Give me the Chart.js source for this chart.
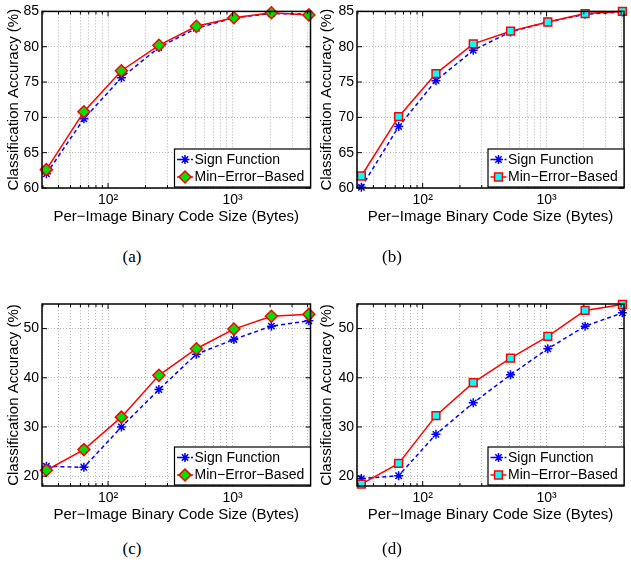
<!DOCTYPE html>
<html>
<head>
<meta charset="utf-8">
<script src="https://cdn.jsdelivr.net/npm/chart.js@4.4.0/dist/chart.umd.min.js"></script>
<style>
  body { margin: 0; background: #fff; width: 631px; height: 572px; position: relative; overflow: hidden; }
  canvas { position: absolute; }
  .cap { position: absolute; font-family: "Liberation Serif", "Times New Roman", serif; font-size: 17px; color: #000; transform: translate(-50%, -50%); }
</style>
</head>
<body>
<canvas id="chartA" width="318" height="235" style="left:0;top:0"></canvas>
<canvas id="chartB" width="316" height="235" style="left:315px;top:0"></canvas>
<canvas id="chartC" width="318" height="250" style="left:0;top:280px"></canvas>
<canvas id="chartD" width="316" height="250" style="left:315px;top:280px"></canvas>
<div class="cap" style="left:132px;top:257px">(a)</div>
<div class="cap" style="left:392px;top:257px">(b)</div>
<div class="cap" style="left:132px;top:549px">(c)</div>
<div class="cap" style="left:392px;top:549px">(d)</div>
<script>
// code sizes in bytes (x values)
const codeSizes = [32, 64, 128, 256, 512, 1024, 2048, 4096];

// (a)
const signA = [62.0, 69.8, 75.6, 79.9, 82.6, 84.1, 84.7, 84.6];
const minErrA = [62.6, 70.8, 76.6, 80.2, 82.9, 84.1, 84.8, 84.5];
// (b)
const signB = [60.1, 68.7, 75.2, 79.5, 82.1, 83.5, 84.6, 84.9];
const minErrB = [61.7, 70.1, 76.2, 80.4, 82.2, 83.5, 84.7, 85.0];
// (c)
const signC = [22.0, 21.8, 30.0, 37.6, 44.8, 47.8, 50.5, 51.6];
const minErrC = [21.2, 25.4, 32.0, 40.5, 45.9, 49.9, 52.5, 52.9];
// (d)
const signD = [19.5, 20.1, 28.5, 34.9, 40.6, 45.9, 50.5, 53.2];
const minErrD = [18.4, 22.6, 32.3, 39.0, 44.0, 48.4, 53.7, 54.9];

// axis ticks
const xTickValues = [30, 40, 50, 60, 70, 80, 90, 100, 200, 300, 400, 500, 600, 700, 800, 900, 1000, 2000, 3000, 4000];
const xTickLabels = { 100: '10²', 1000: '10³' };
const yTicksTop = [60, 65, 70, 75, 80, 85];
const yTicksBottom = [20, 30, 40, 50];

const seriesNames = ['Sign Function', 'Min−Error−Based'];

Chart.defaults.font.family = '"Liberation Sans", Arial, Helvetica, sans-serif';
Chart.defaults.color = '#000';

function drawMarker(ctx, style, x, y, r, fill, stroke, lw) {
    ctx.save();
    ctx.lineWidth = lw;
    ctx.strokeStyle = stroke;
    ctx.fillStyle = fill;
    ctx.beginPath();
    if (style === 'star') {
        for (let k = 0; k < 4; k++) {
            const ang = k * Math.PI / 4;
            ctx.moveTo(x - r * Math.cos(ang), y - r * Math.sin(ang));
            ctx.lineTo(x + r * Math.cos(ang), y + r * Math.sin(ang));
        }
        ctx.stroke();
    } else if (style === 'rectRot') {
        ctx.moveTo(x, y - r);
        ctx.lineTo(x + r, y);
        ctx.lineTo(x, y + r);
        ctx.lineTo(x - r, y);
        ctx.closePath();
        ctx.fill();
        ctx.stroke();
    } else {
        const s = r * Math.SQRT1_2;
        ctx.rect(x - s, y - s, 2 * s, 2 * s);
        ctx.fill();
        ctx.stroke();
    }
    ctx.restore();
}

const framePlugin = {
    id: 'frame',
    afterDatasetsDraw(chart) {
        const ctx = chart.ctx, a = chart.chartArea;
        const xs = chart.scales.x, ys = chart.scales.y;
        ctx.save();
        ctx.strokeStyle = '#000';
        ctx.lineWidth = 1;
        ctx.beginPath();
        xs.ticks.forEach(t => {
            const px = xs.getPixelForValue(t.value);
            const len = xTickLabels[t.value] ? 5 : 3;
            ctx.moveTo(px, a.bottom); ctx.lineTo(px, a.bottom - len);
            ctx.moveTo(px, a.top); ctx.lineTo(px, a.top + len);
        });
        ys.ticks.forEach(t => {
            const py = ys.getPixelForValue(t.value);
            ctx.moveTo(a.left, py); ctx.lineTo(a.left + 5, py);
            ctx.moveTo(a.right, py); ctx.lineTo(a.right - 5, py);
        });
        ctx.stroke();
        ctx.lineWidth = 1.5;
        ctx.strokeRect(a.left, a.top, a.right - a.left, a.bottom - a.top);

        // legend box, lower right inside the axes
        const w = 136, h = 38;
        const x0 = a.right - w, y0 = a.bottom - 1 - h;
        ctx.fillStyle = '#fff';
        ctx.fillRect(x0, y0, w, h);
        ctx.lineWidth = 1.2;
        ctx.strokeRect(x0, y0, w, h);
        const rows = [y0 + 10.5, y0 + 28];
        const legendSets = [chart.data.datasets[1], chart.data.datasets[0]];
        legendSets.forEach((ds, i) => {
            const yy = rows[i];
            ctx.save();
            ctx.strokeStyle = ds.borderColor;
            ctx.lineWidth = ds.borderWidth;
            ctx.setLineDash(ds.borderDash || []);
            ctx.beginPath();
            ctx.moveTo(x0 + 2.5, yy);
            ctx.lineTo(x0 + 18.5, yy);
            ctx.stroke();
            ctx.restore();
            drawMarker(ctx, ds.pointStyle, x0 + 10.5, yy, ds.pointRadius,
                ds.pointBackgroundColor || ds.borderColor, ds.borderColor, ds.pointBorderWidth);
            ctx.fillStyle = '#000';
            ctx.font = '14px "Liberation Sans", Arial, sans-serif';
            ctx.textBaseline = 'middle';
            ctx.textAlign = 'left';
            ctx.fillText(ds.label, x0 + 20, yy + 0.5);
        });
        ctx.restore();
    }
};

function makePanel(id, box, area, xTitleY, yTitleX, yMin, yMax, yTicks, sign, minErr, markStyle, markFill, markRadius) {
    const ctx = document.getElementById(id).getContext('2d');
    new Chart(ctx, {
        type: 'line',
        data: {
            datasets: [
                {
                    label: seriesNames[1],
                    data: codeSizes.map((x, i) => ({ x: x, y: minErr[i] })),
                    borderColor: '#ff0000',
                    borderWidth: 1.5,
                    pointStyle: markStyle,
                    pointRadius: markRadius,
                    pointBackgroundColor: markFill,
                    pointBorderColor: '#ff0000',
                    pointBorderWidth: 1.5,
                    clip: false,
                    order: 0
                },
                {
                    label: seriesNames[0],
                    data: codeSizes.map((x, i) => ({ x: x, y: sign[i] })),
                    borderColor: '#0000ff',
                    borderWidth: 1.5,
                    borderDash: [4, 3],
                    pointStyle: 'star',
                    pointRadius: 4.5,
                    pointBorderColor: '#0000ff',
                    pointBorderWidth: 1.5,
                    clip: false,
                    order: 1
                }
            ]
        },
        options: {
            responsive: false,
            animation: false,
            layout: {
                padding: { left: 0, top: area.top - box.top, right: box.left + box.width - area.right, bottom: 0 }
            },
            plugins: { legend: { display: false }, tooltip: { enabled: false } },
            scales: {
                x: {
                    type: 'logarithmic',
                    min: 29.5,
                    max: 4220,
                    afterBuildTicks: s => { s.ticks = xTickValues.map(v => ({ value: v })); },
                    afterFit: s => { s.height = box.top + box.height - area.bottom; },
                    ticks: {
                        autoSkip: false,
                        maxRotation: 0,
                        padding: 4,
                        font: { size: 14 },
                        callback: v => xTickLabels[v] || ''
                    },
                    grid: { color: '#b4b4b4', drawTicks: false },
                    border: { display: false, dash: [1, 2] },
                    title: {
                        display: true,
                        text: 'Per−Image Binary Code Size (Bytes)',
                        font: { size: 15 },
                        padding: { top: 0, bottom: box.top + box.height - 9 - xTitleY }
                    }
                },
                y: {
                    min: yMin,
                    max: yMax,
                    afterBuildTicks: s => { s.ticks = yTicks.map(v => ({ value: v })); },
                    afterFit: s => { s.width = area.left - box.left; },
                    ticks: { padding: 3, font: { size: 14 } },
                    grid: { color: '#b4b4b4', drawTicks: false },
                    border: { display: false, dash: [1, 2] },
                    title: {
                        display: true,
                        text: 'Classification Accuracy (%)',
                        font: { size: 15 },
                        padding: { top: yTitleX - box.left - 9, bottom: 0 }
                    }
                }
            }
        },
        plugins: [framePlugin]
    });
}

document.addEventListener('DOMContentLoaded', function () {
    makePanel('chartA', { left: 0, top: 0, width: 318, height: 235 },
        { left: 42, top: 7, right: 317, bottom: 188 }, 217, 14,
        60, 85, yTicksTop, signA, minErrA, 'rectRot', '#00e000', 6);
    makePanel('chartB', { left: 315, top: 0, width: 316, height: 235 },
        { left: 357, top: 7, right: 631, bottom: 188 }, 217, 327,
        60, 85, yTicksTop, signB, minErrB, 'rect', '#00ffff', 5.5);
    makePanel('chartC', { left: 0, top: 280, width: 318, height: 250 },
        { left: 42, top: 304, right: 317, bottom: 486 }, 515, 14,
        18, 55, yTicksBottom, signC, minErrC, 'rectRot', '#00e000', 6);
    makePanel('chartD', { left: 315, top: 280, width: 316, height: 250 },
        { left: 357, top: 304, right: 631, bottom: 486 }, 515, 327,
        18, 55, yTicksBottom, signD, minErrD, 'rect', '#00ffff', 5.5);
});
</script>
</body>
</html>
